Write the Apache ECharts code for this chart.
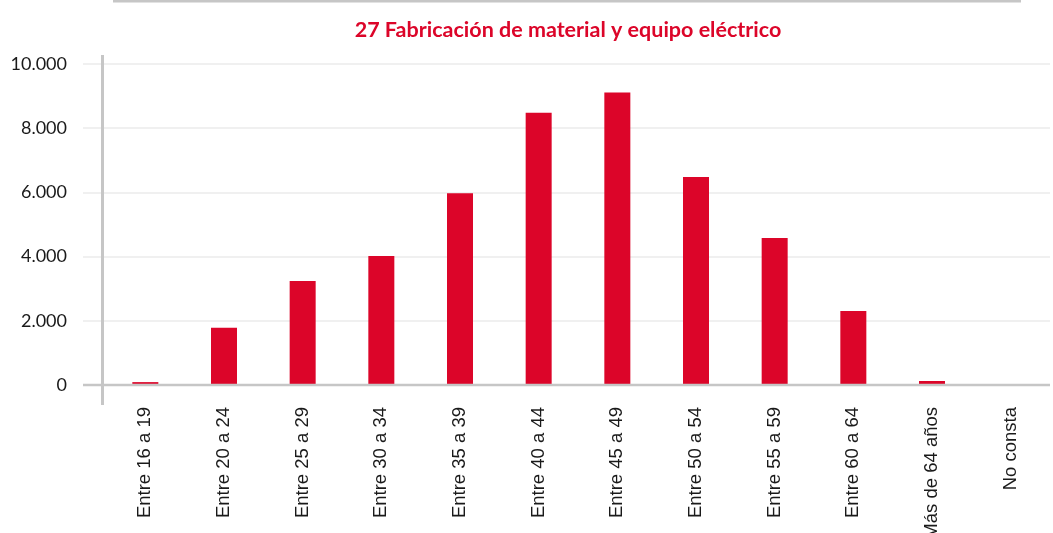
<!DOCTYPE html>
<html>
<head>
<meta charset="utf-8">
<script src="https://cdn.jsdelivr.net/npm/echarts@6/dist/echarts.min.js"></script>
<style>
  html, body { margin: 0; padding: 0; background: #fff; }
  #chart { width: 1053px; height: 533px; }
</style>
</head>
<body>
<div id="chart"></div>
<script>
const chartTitle = "27 Fabricación de material y equipo eléctrico";
const categories = ["Entre 16 a 19", "Entre 20 a 24", "Entre 25 a 29", "Entre 30 a 34", "Entre 35 a 39",
    "Entre 40 a 44", "Entre 45 a 49", "Entre 50 a 54", "Entre 55 a 59", "Entre 60 a 64",
    "Más de 64 años", "No consta"];
const workers = [90, 1780, 3240, 4020, 5970, 8480, 9110, 6480, 4580, 2305, 125, 0];
const yTicks = [0, 2000, 4000, 6000, 8000, 10000];

const red = "#dc0529";
const axisGray = "#c6c6c6";

const formatMiles = (v) => String(v).replace(/\B(?=(\d{3})+(?!\d))/g, ".");

const initChart = () => {
    const chartElement = document.getElementById("chart");
    const chart = echarts.init(chartElement, null, { renderer: "canvas" });

    chart.setOption({
        animation: false,
        backgroundColor: "#fff",
        title: {
            text: chartTitle,
            left: 563,
            textAlign: "center",
            top: 14,
            textStyle: { fontFamily: "Lato", fontWeight: "bold", fontSize: 21.5, color: red }
        },
        grid: { left: 106, right: 3, top: 64, bottom: 148, outerBoundsMode: "none", containLabel: false },
        xAxis: {
            type: "category",
            data: categories,
            axisLine: { show: false },
            axisTick: { show: false },
            axisLabel: {
                interval: 0,
                rotate: 90,
                margin: 22,
                fontFamily: "Liberation Sans",
                fontSize: 18.5,
                color: "#1a1a1a"
            }
        },
        yAxis: {
            type: "value",
            min: yTicks[0],
            max: yTicks[yTicks.length - 1],
            interval: yTicks[1] - yTicks[0],
            axisLine: { show: false },
            axisTick: { show: true, length: 23, lineStyle: { color: "#ebebeb", width: 1.5 } },
            splitLine: { lineStyle: { color: "#ebebeb", width: 1.5 } },
            axisLabel: {
                margin: 39,
                fontFamily: "Lato",
                fontSize: 18,
                color: "#1a1a1a",
                formatter: formatMiles
            }
        },
        series: [{
            type: "bar",
            data: workers,
            barWidth: 26,
            itemStyle: { color: red }
        }]
    });

    // axis lines in the Excel style: y line sticks out above and below, x line extends left
    const top = chart.convertToPixel({ yAxisIndex: 0 }, yTicks[yTicks.length - 1]);
    const zero = chart.convertToPixel({ yAxisIndex: 0 }, 0);
    const left = 102.5;
    chart.setOption({
        graphic: [
            { type: "rect", shape: { x: 113, y: 0, width: 908, height: 2.5 }, style: { fill: axisGray }, z: 10 },
            { type: "line", shape: { x1: left, y1: top - 9, x2: left, y2: zero + 20 },
              style: { stroke: axisGray, lineWidth: 3 }, z: 10 },
            { type: "line", shape: { x1: 83, y1: zero, x2: 1050, y2: zero },
              style: { stroke: axisGray, lineWidth: 2.5 }, z: 10 }
        ]
    });
};

window.addEventListener("load", () => {
    initChart();
});
</script>
</body>
</html>
